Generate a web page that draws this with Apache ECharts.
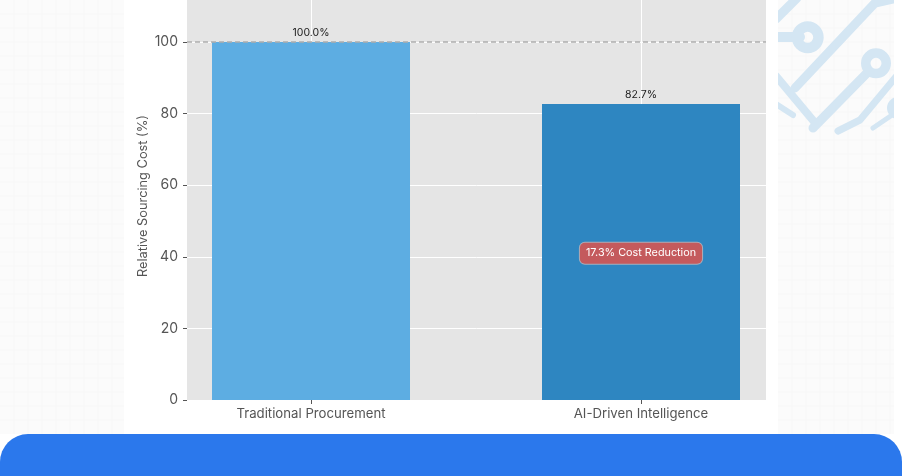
<!DOCTYPE html>
<html><head><meta charset="utf-8">
<style>html,body{margin:0;padding:0;background:#fff}#c{width:902px;height:476px}</style>
<script src="https://cdn.jsdelivr.net/npm/echarts@6/dist/echarts.min.js"></script></head>
<body><div id="c"></div>
<script>
const categories = ['Traditional Procurement', 'AI-Driven Intelligence'];
const costValues = [100, 82.7];
const barColors = ['#5dade2', '#2e86c1'];
const valueLabels = ['100.0%', '82.7%'];
const yTicks = [0, 20, 40, 60, 80, 100];
const baseline = 100;
const annotationText = '17.3% Cost Reduction';
const annotationY = 41;
const yAxisTitle = 'Relative Sourcing Cost (%)';
const FONT = 'Inter';
const deco = '#d4e6f3';

const chart = echarts.init(document.getElementById('c'), null, {renderer: 'canvas'});
const line = (pts, w) => ({type: 'polyline', z: -10, shape: {points: pts}, style: {stroke: deco, lineWidth: w, fill: null, lineCap: 'round', lineJoin: 'round'}});
const ring = (x, y, r0, r) => ({type: 'ring', z: -10, shape: {cx: x, cy: y, r0: r0, r: r}, style: {fill: deco}});
const rect = (x, y, w, h, fill, z, r) => ({type: 'rect', z: z, shape: {x, y, width: w, height: h, r: r || 0}, style: {fill}});
const gridLines = [];
[0, 778].forEach((x0, k) => {
  const w = k ? 116 : 124;
  for (let x = x0 + 14; x < x0 + w; x += 14) gridLines.push({type: 'line', z: -11, shape: {x1: x, y1: 0, x2: x, y2: 434}, style: {stroke: '#f7f7f7', lineWidth: 1}});
  for (let y = 14; y < 434; y += 14) gridLines.push({type: 'line', z: -11, shape: {x1: x0, y1: y, x2: x0 + w, y2: y}, style: {stroke: '#f7f7f7', lineWidth: 1}});
});
chart.setOption({
  animation: false,
  backgroundColor: '#fff',
  textStyle: {fontFamily: FONT},
  graphic: {elements: [
    rect(0, 0, 124, 434, '#fbfbfb', -12),
    rect(778, 0, 116, 434, '#fbfbfb', -12),
    ...gridLines,
    line([[776, 19], [797, -2]], 9),
    line([[776, 37], [800, 37]], 10),
    ring(807.7, 37.3, 5.5, 16),
    line([[897, -2], [875, 3], [795, 88]], 9),
    line([[776, 76], [816, 124]], 8),
    line([[813, 128], [868, 72]], 9),
    ring(876, 63.3, 5.5, 15),
    line([[838, 131], [860, 120], [900, 72]], 7),
    line([[873, 128], [895, 113]], 5),
    ring(898, 108, 4, 11),
    line([[776, 104], [793, 115]], 6),
    rect(894, 0, 8, 434, '#fff', -9),
    rect(124, 0, 654, 434, '#fff', -9),
    rect(0, 434, 902, 80, '#2b78ec', 50, 28)
  ]},
  grid: {left: 187, right: 136, top: 0, bottom: 76, show: true, backgroundColor: '#e5e5e5', borderWidth: 0, containLabel: false},
  xAxis: {
    type: 'value', min: -0.3758, max: 1.3788,
    axisLine: {show: false, onZero: false},
    axisTick: {show: true, length: 4, customValues: [0, 1], lineStyle: {color: '#555', width: 1}},
    axisLabel: {customValues: [0, 1], margin: 8, fontSize: 13.2, color: '#555', fontFamily: FONT, formatter: v => categories[v]},
    splitLine: {show: true, lineStyle: {color: '#fff', width: 1}}
  },
  yAxis: {
    type: 'value', min: 0, max: 111.73,
    name: yAxisTitle, nameLocation: 'middle', nameGap: 37, nameMoveOverlap: false,
    nameTextStyle: {fontSize: 12.8, color: '#555', fontFamily: FONT, padding: [0, 0, 0, 8]},
    axisLine: {show: false, onZero: false},
    axisTick: {show: true, length: 4, customValues: yTicks, lineStyle: {color: '#555', width: 1}},
    axisLabel: {customValues: yTicks, margin: 9, fontSize: 14, color: '#555', fontFamily: FONT, padding: [3, 0, 0, 0]},
    splitLine: {show: true, lineStyle: {color: '#fff', width: 1}}
  },
  series: [
    {
      type: 'bar', barWidth: 198, z: 3,
      data: costValues.map((v, i) => ({value: [i, v], itemStyle: {color: barColors[i]}})),
      label: {show: true, position: 'top', distance: 4, fontSize: 10.5, color: '#222', fontFamily: FONT, formatter: p => valueLabels[p.dataIndex]},
      markLine: {
        silent: true, symbol: 'none', z: 4,
        label: {show: false},
        lineStyle: {color: '#adadad', type: [5, 3], width: 1.5},
        data: [{yAxis: baseline}]
      }
    },
    {
      type: 'scatter', z: 5, symbolSize: 0,
      itemStyle: {opacity: 1},
      data: [[1, annotationY]],
      label: {
        show: true, position: 'inside', formatter: annotationText,
        fontSize: 10.8, color: '#fff', fontFamily: FONT,
        backgroundColor: '#c45a5d', borderColor: '#a9aebb', borderWidth: 1, borderRadius: 5,
        padding: [5, 6, 5, 6]
      }
    }
  ]
});
</script></body></html>
